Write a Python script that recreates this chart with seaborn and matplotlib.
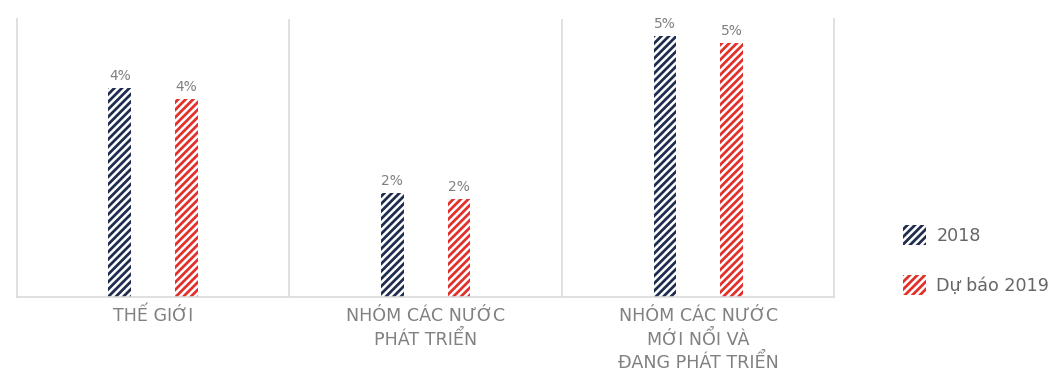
import matplotlib
matplotlib.use("Agg")
import matplotlib.pyplot as plt
import seaborn as sns
import pandas as pd
from matplotlib.patches import Patch

categories = ["THẾ GIỚI", "NHÓM CÁC NƯỚC\nPHÁT TRIỂN", "NHÓM CÁC NƯỚC\nMỚI NỔI VÀ\nĐANG PHÁT TRIỂN"]
series_names = ["2018", "Dự báo 2019"]
values_2018 = [3.7, 1.84, 4.62]
values_2019 = [3.5, 1.73, 4.5]
colors = ["#1f2d4f", "#e2302b"]

df = pd.DataFrame({
    "cat": categories * 2,
    "series": [series_names[0]] * 3 + [series_names[1]] * 3,
    "value": values_2018 + values_2019,
})

DPI = 90
sns.set_theme(style="white")
plt.rcParams["font.family"] = ["DejaVu Sans"]
plt.rcParams["hatch.linewidth"] = 2.2

fig = plt.figure(figsize=(1059 / DPI, 373 / DPI), dpi=DPI)
ax = fig.add_axes([0.016, 0.204, 0.772, 0.745])

sns.barplot(data=df, x="cat", y="value", hue="series", order=categories,
            hue_order=series_names, width=0.49, gap=0.66, ax=ax, legend=False,
            palette=colors)

for container, col in zip(ax.containers, colors):
    for bar in container:
        bar.set_facecolor("white")
        bar.set_edgecolor(col)
        bar.set_hatch("////")
        bar.set_linewidth(0)
    ax.bar_label(container, labels=[f"{round(v + 1e-9):.0f}%" for v in container.datavalues],
                 padding=4, color="#7f7f7f", fontsize=11)

ax.set_ylim(0, 4.92)
ax.set_xlim(-0.5, 2.5)
ax.set_yticks([])
ax.set_xlabel("")
ax.set_ylabel("")
ax.tick_params(axis="x", length=0, pad=8, labelsize=14, labelcolor="#808080")
for lbl in ax.get_xticklabels():
    lbl.set_linespacing(1.3)

ax.spines["top"].set_visible(False)
for s in ["left", "right", "bottom"]:
    ax.spines[s].set_color("#d9d9d9")
    ax.spines[s].set_linewidth(1.3)
for xs in [0.5, 1.5]:
    ax.axvline(xs, color="#d9d9d9", linewidth=1.3)

handles = [Patch(facecolor="white", edgecolor=c, hatch="////", linewidth=0) for c in colors]
fig.legend(handles, series_names, loc="center left", bbox_to_anchor=(0.838, 0.302),
           frameon=False, fontsize=14, labelcolor="#666666", handlelength=1.3,
           handleheight=1.4, labelspacing=1.7, handletextpad=0.6)

fig.savefig("out.png", dpi=DPI)
